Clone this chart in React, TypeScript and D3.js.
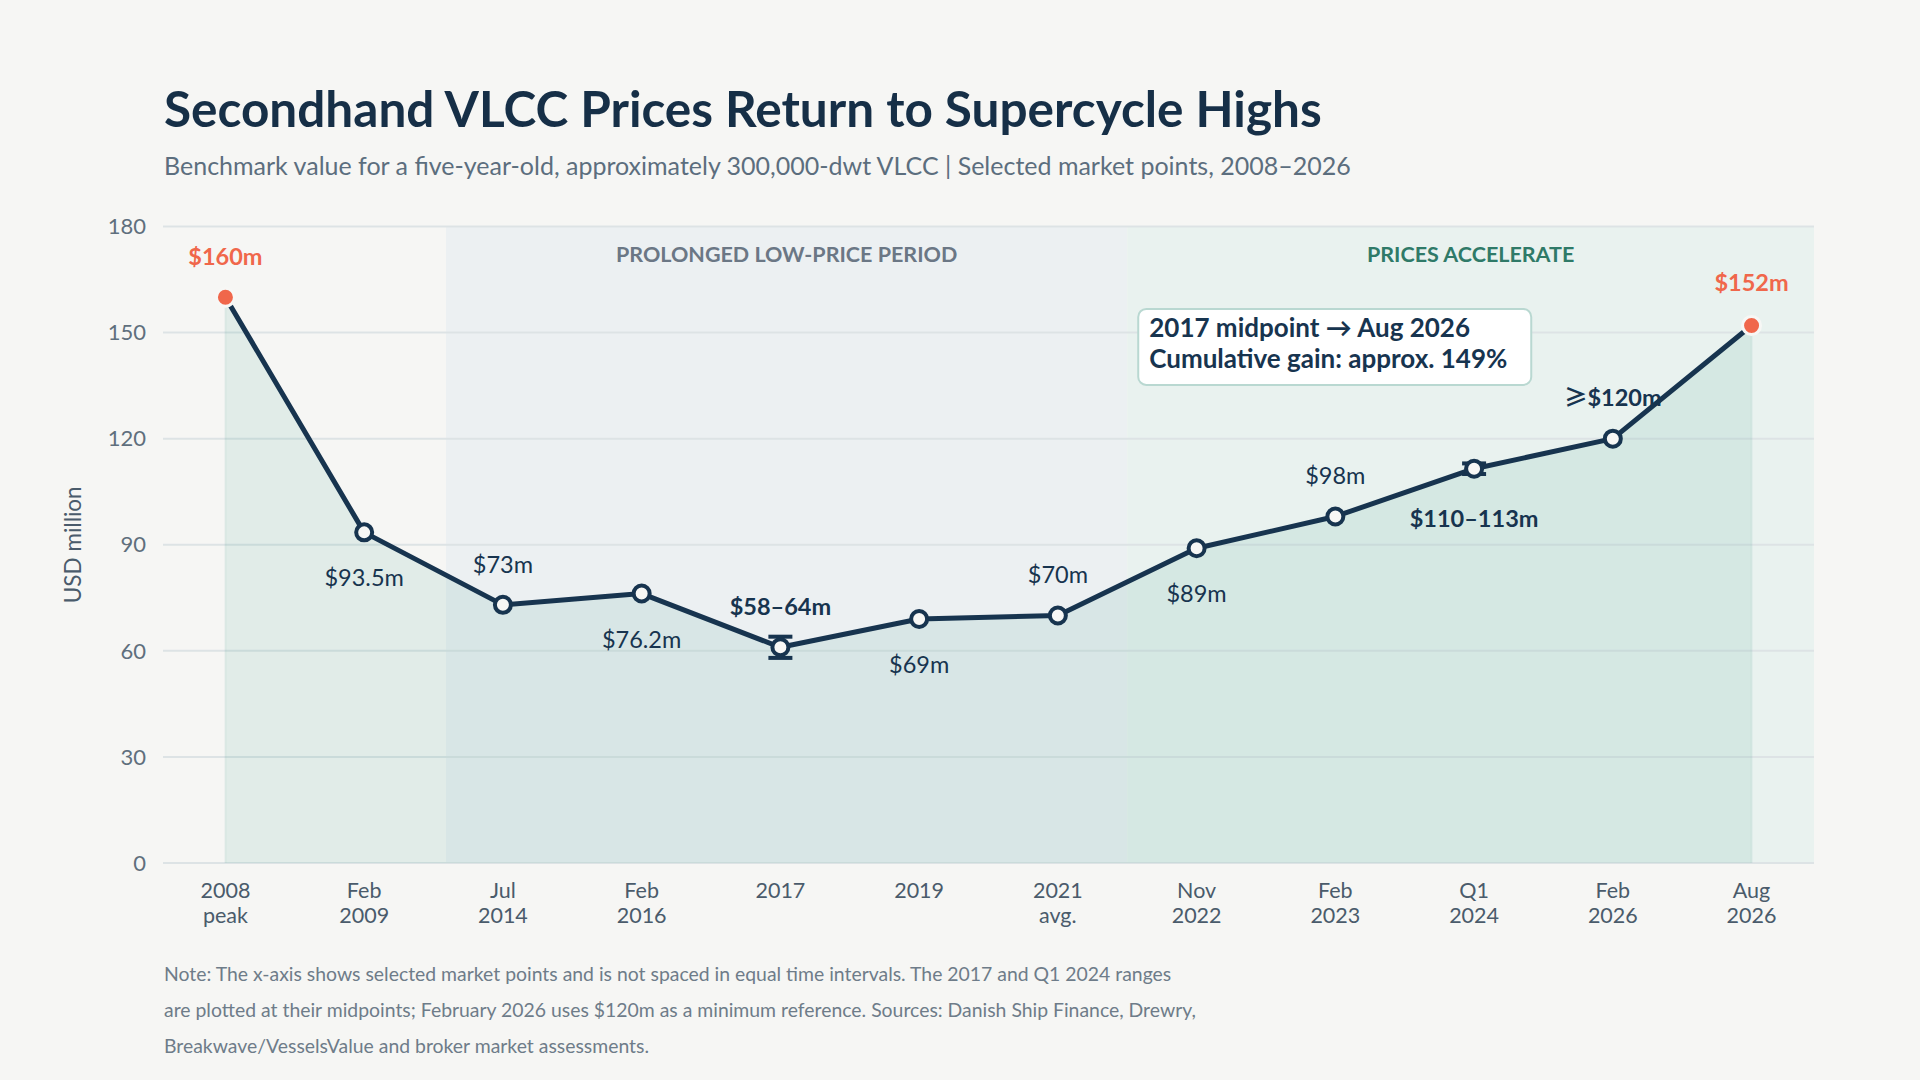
import { useEffect, useRef } from 'react'
import * as d3 from 'd3'

// chart data
const categories = [
  ['2008', 'peak'],
  ['Feb', '2009'],
  ['Jul', '2014'],
  ['Feb', '2016'],
  ['2017'],
  ['2019'],
  ['2021', 'avg.'],
  ['Nov', '2022'],
  ['Feb', '2023'],
  ['Q1', '2024'],
  ['Feb', '2026'],
  ['Aug', '2026'],
]
const prices = [160, 93.5, 73, 76.2, 61, 69, 70, 89, 98, 111.5, 120, 152]
const rangeLow = [null, null, null, null, 58, null, null, null, null, 110, null, null]
const rangeHigh = [null, null, null, null, 64, null, null, null, null, 113, null, null]
const valueLabels = ['$160m', '$93.5m', '$73m', '$76.2m', '$58–64m', '$69m', '$70m', '$89m', '$98m', '$110–113m', '≥$120m', '$152m']
const yTicks = [0, 30, 60, 90, 120, 150, 180]
const periodNames = ['PROLONGED LOW-PRICE PERIOD', 'PRICES ACCELERATE']
const periodStart = [1.59, 6.5] // in category index units
const periodEnd = [6.5, 11.45]
const calloutLines = ['2017 midpoint → Aug 2026', 'Cumulative gain: approx. 149%']
const noteLines = [
  'Note: The x-axis shows selected market points and is not spaced in equal time intervals. The 2017 and Q1 2024 ranges',
  'are plotted at their midpoints; February 2026 uses $120m as a minimum reference. Sources: Danish Ship Finance, Drewry,',
  'Breakwave/VesselsValue and broker market assessments.',
]

const FONT = 'Lato, "Noto Sans", sans-serif'
const NAVY = '#17344f'
const ORANGE = '#f0674b'
const BG = '#f6f6f4'

export default function App() {
  const svgRef = useRef<SVGSVGElement>(null)

  useEffect(() => {
    if (!svgRef.current) return
    document.body.style.margin = '0'

    const svg = d3.select(svgRef.current)
    const width = 1920
    const height = 1080
    svg.selectAll('*').remove()
    svg.attr('width', width).attr('height', height).style('display', 'block')

    svg.append('rect').attr('width', width).attr('height', height).attr('fill', BG)

    const left = 163
    const right = 1814
    const top = 226.5
    const bottom = 863

    const idx = categories.map((_, i) => i)
    const x = d3.scalePoint<number>().domain(idx).range([left, right]).padding(0.45)
    const xi = (i: number) => (x(0) as number) + i * x.step()
    const y = d3.scaleLinear().domain([0, 180]).range([bottom, top])

    // title + subtitle
    svg.append('text')
      .attr('x', 164).attr('y', 127)
      .attr('font-family', FONT).attr('font-size', 49.5).attr('font-weight', 700)
      .attr('fill', '#162f47')
      .text('Secondhand VLCC Prices Return to Supercycle Highs')

    svg.append('text')
      .attr('x', 164).attr('y', 175)
      .attr('font-family', FONT).attr('font-size', 25)
      .attr('fill', '#5c6e7e')
      .text('Benchmark value for a five-year-old, approximately 300,000-dwt VLCC | Selected market points, 2008–2026')

    // period bands
    const bandFill = ['#ecf0f2', '#e9f2ef']
    const bandText = ['#6b7785', '#2f7a68']
    periodNames.forEach((name, i) => {
      const x0 = xi(periodStart[i])
      const x1 = xi(periodEnd[i])
      svg.append('rect')
        .attr('x', x0).attr('y', top)
        .attr('width', x1 - x0).attr('height', bottom - top)
        .attr('fill', bandFill[i])
      svg.append('text')
        .attr('x', (x0 + x1) / 2).attr('y', 262)
        .attr('text-anchor', 'middle')
        .attr('font-family', FONT).attr('font-size', 21.5).attr('font-weight', 700)
        .attr('fill', bandText[i])
        .text(name)
    })

    // gridlines + y ticks
    const grid = svg.append('g')
    yTicks.forEach((t) => {
      grid.append('line')
        .attr('x1', left).attr('x2', right)
        .attr('y1', y(t)).attr('y2', y(t))
        .attr('stroke', '#dde3e5').attr('stroke-width', 2)
      grid.append('text')
        .attr('x', 146).attr('y', y(t))
        .attr('dy', '0.35em')
        .attr('text-anchor', 'end')
        .attr('font-family', FONT).attr('font-size', 22)
        .attr('fill', '#5f6f7d')
        .text(t)
    })

    svg.append('text')
      .attr('transform', `translate(81,${(top + bottom) / 2}) rotate(-90)`)
      .attr('text-anchor', 'middle')
      .attr('font-family', FONT).attr('font-size', 22.5)
      .attr('fill', '#4a5b6b')
      .text('USD million')

    // area under the line
    const area = d3.area<number>()
      .x((_, i) => x(i) as number)
      .y0(bottom)
      .y1((d) => y(d))
    svg.append('path')
      .attr('d', area(prices) as string)
      .attr('fill', '#3a9f8c')
      .attr('fill-opacity', 0.11)
    ;[0, prices.length - 1].forEach((i) => {
      svg.append('line')
        .attr('x1', x(i) as number).attr('x2', x(i) as number)
        .attr('y1', y(prices[i])).attr('y2', bottom)
        .attr('stroke', '#3a9f8c').attr('stroke-opacity', 0.08).attr('stroke-width', 2)
    })

    // x labels
    categories.forEach((lines, i) => {
      const t = svg.append('text')
        .attr('text-anchor', 'middle')
        .attr('font-family', FONT).attr('font-size', 21.5)
        .attr('fill', '#4a5b6b')
      lines.forEach((ln, j) => {
        t.append('tspan').attr('x', x(i) as number).attr('y', 898 + j * 24.5).text(ln)
      })
    })

    // main line
    const line = d3.line<number>()
      .x((_, i) => x(i) as number)
      .y((d) => y(d))
    svg.append('path')
      .attr('d', line(prices) as string)
      .attr('fill', 'none')
      .attr('stroke', NAVY).attr('stroke-width', 5)
      .attr('stroke-linejoin', 'round').attr('stroke-linecap', 'round')

    // range whiskers
    prices.forEach((_, i) => {
      const lo = rangeLow[i]
      const hi = rangeHigh[i]
      if (lo == null || hi == null) return
      const cx = x(i) as number
      const g = svg.append('g').attr('stroke', NAVY).attr('stroke-width', 4)
      g.append('line').attr('x1', cx).attr('x2', cx).attr('y1', y(lo)).attr('y2', y(hi))
      g.append('line').attr('x1', cx - 12).attr('x2', cx + 12).attr('y1', y(lo)).attr('y2', y(lo))
      g.append('line').attr('x1', cx - 12).attr('x2', cx + 12).attr('y1', y(hi)).attr('y2', y(hi))
    })

    // markers
    const last = prices.length - 1
    prices.forEach((d, i) => {
      const edge = i === 0 || i === last
      svg.append('circle')
        .attr('cx', x(i) as number).attr('cy', y(d))
        .attr('r', edge ? 9 : 8)
        .attr('fill', edge ? ORANGE : '#f7f7f5')
        .attr('stroke', edge ? '#f7f7f5' : NAVY)
        .attr('stroke-width', edge ? 3 : 4)
    })

    // value labels
    const below = new Set([1, 3, 5, 7, 9])
    const bold = new Set([0, 4, 9, 10, 11])
    valueLabels.forEach((lbl, i) => {
      const edge = i === 0 || i === last
      const py = y(prices[i])
      let dy = below.has(i) ? 54 : -32
      if (i === 9) dy = 58
      if (i === 10) dy = -33
      if (i === last) dy = -35
      const t = svg.append('text')
        .attr('x', x(i) as number).attr('y', py + dy)
        .attr('text-anchor', 'middle')
        .attr('font-family', FONT).attr('font-size', 23.5)
        .attr('font-weight', bold.has(i) ? 700 : 400)
        .attr('fill', edge ? ORANGE : NAVY)
      if (lbl.startsWith('≥')) {
        t.append('tspan').attr('font-family', '"Noto Sans CJK SC", sans-serif').text('≥')
        t.append('tspan').text(lbl.slice(1))
      } else {
        t.text(lbl)
      }
    })

    // callout box
    const bx = xi(6.5) + 11
    const by = y(156.7)
    svg.append('rect')
      .attr('x', bx).attr('y', by)
      .attr('width', 393).attr('height', 76).attr('rx', 8)
      .attr('fill', '#ffffff')
      .attr('stroke', '#b9d8d1').attr('stroke-width', 2)
    calloutLines.forEach((t, j) => {
      svg.append('text')
        .attr('x', bx + 11).attr('y', by + 28 + j * 31.5)
        .attr('font-family', FONT).attr('font-size', 26).attr('font-weight', 700)
        .attr('fill', NAVY)
        .text(t)
    })

    // notes
    noteLines.forEach((t, j) => {
      svg.append('text')
        .attr('x', 164).attr('y', 980.5 + j * 36.3)
        .attr('font-family', FONT).attr('font-size', 19.4)
        .attr('fill', '#6e7c89')
        .text(t)
    })
  }, [])

  return <svg ref={svgRef}></svg>
}
